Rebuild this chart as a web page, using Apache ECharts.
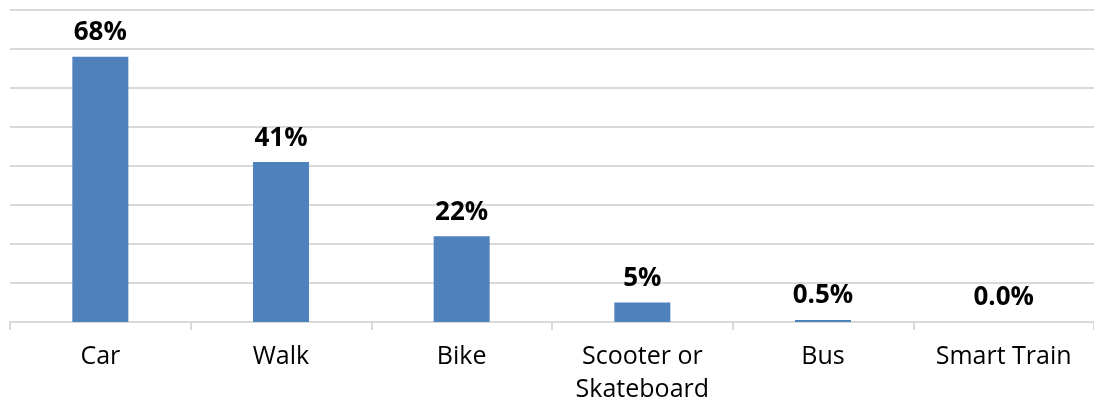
<!DOCTYPE html>
<html>
<head>
<meta charset="utf-8">
<script src="https://cdn.jsdelivr.net/npm/echarts@6/dist/echarts.min.js"></script>
<style>
  html, body { margin: 0; padding: 0; background: #fff; }
  #chart { width: 1094px; height: 406px; }
</style>
</head>
<body>
<div id="chart"></div>
<script>
const categories = ['Car', 'Walk', 'Bike', 'Scooter or\nSkateboard', 'Bus', 'Smart Train']
const shares = [68, 41, 22, 5, 0.5, 0]
const shareLabels = ['68%', '41%', '22%', '5%', '0.5%', '0.0%']

const chart = echarts.init(document.getElementById('chart'))
chart.setOption({
  animation: false,
  grid: { left: 10, top: 10, width: 1090, height: 315, containLabel: false },
  xAxis: {
    type: 'category',
    data: categories,
    axisLine: { lineStyle: { color: '#d9d9d9', width: 2 } },
    axisTick: { show: true, length: 8, lineStyle: { color: '#d9d9d9', width: 2 } },
    axisLabel: {
      color: '#000',
      fontFamily: 'Open Sans',
      fontSize: 25,
      lineHeight: 33,
      margin: 18,
      interval: 0
    }
  },
  yAxis: {
    type: 'value',
    min: 0,
    max: 80,
    interval: 10,
    axisLabel: { show: false },
    axisLine: { show: false },
    axisTick: { show: false },
    splitLine: { lineStyle: { color: '#d9d9d9', width: 2 } }
  },
  series: [{
    type: 'bar',
    data: shares,
    barWidth: '31%',
    itemStyle: { color: '#4f81bd' },
    label: {
      show: true,
      position: 'top',
      distance: 11,
      color: '#000',
      fontFamily: 'Open Sans',
      fontWeight: 'bold',
      fontSize: 26,
      formatter: p => shareLabels[p.dataIndex]
    }
  }]
})
</script>
</body>
</html>
